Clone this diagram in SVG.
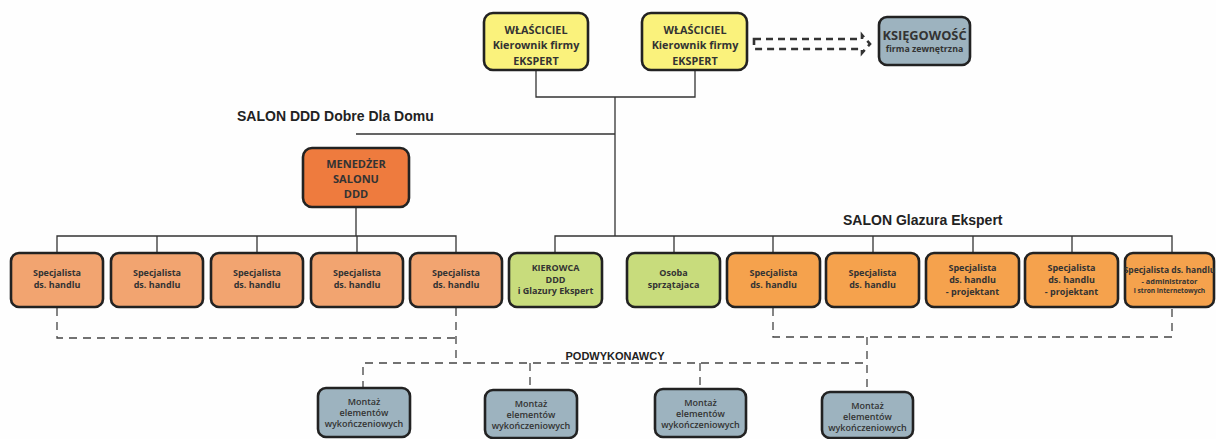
<svg xmlns="http://www.w3.org/2000/svg" width="1216" height="439" viewBox="0 0 1216 439">
<style>
.box{stroke:#222;stroke-width:2.6}
.y{fill:#FAF27C}.b{fill:#9DB3BF}.m{fill:#EE7B3E}.lo{fill:#F2A470}.ro{fill:#F5A24D}.g{fill:#C8DC7C}
text{font-family:"Open Sans","Liberation Sans",sans-serif;fill:#333;text-anchor:middle}
.t10{font-size:10.8px;font-weight:bold}
.t12{font-size:11px;font-weight:bold}
.t8{font-size:9px;font-weight:bold}
.t7{font-size:7.4px;font-weight:bold}
.t6{font-size:6.6px;font-weight:bold}
.mt{font-size:9px;font-weight:600}
.h{font-family:"Liberation Sans",Arial,sans-serif;font-weight:bold;text-anchor:start;fill:#222}
.sl{fill:none;stroke:#333;stroke-width:1.3}
.dl{fill:none;stroke:#444;stroke-width:1.3;stroke-dasharray:8,6}
</style>
<rect width="1216" height="439" fill="#FEFEFE"/>
<g id="connectors">
<path class="sl" d="M536 70V97H695V70M615 97V236M356 134H615M356 207V236M57 253V236H456V253M157 236V253M257 236V253M357 236V253M555 253V236H1172V253M674 236V253M773 236V253M873 236V253M973 236V253M1072 236V253"/>
<path class="dl" d="M57 308V338H456M456 308V363M363 389V363H867M530 363V390M700 363V389M867 337V392M773 308V337H1172V308"/>
<path fill="none" stroke="#333" stroke-width="2.6" stroke-dasharray="7,5" d="M754 39H862V35L870 44L862 53V49H754Z"/>
</g>
<g id="wlasciciel1"><rect class="box y" x="484" y="13" width="104" height="57" rx="9"/><text class="t10" x="536" y="34">WŁAŚCICIEL</text><text class="t10" x="536" y="49">Kierownik firmy</text><text class="t10" x="536" y="64.5">EKSPERT</text></g>
<g id="wlasciciel2"><rect class="box y" x="642" y="13" width="105" height="57" rx="9"/><text class="t10" x="695" y="34">WŁAŚCICIEL</text><text class="t10" x="695" y="49">Kierownik firmy</text><text class="t10" x="695" y="64.5">EKSPERT</text></g>
<g id="ksiegowosc"><rect class="box b" x="879" y="17" width="91" height="48" rx="8"/><text class="t12" x="924.5" y="39.5" style="font-size:12.8px">KSIĘGOWOŚĆ</text><text class="t7" x="924.5" y="51.5" style="font-size:8.8px">firma zewnętrzna</text></g>
<text class="h" x="237" y="121" font-size="14">SALON DDD Dobre Dla Domu</text>
<text class="h" x="843" y="225" font-size="14">SALON Glazura Ekspert</text>
<text class="h" x="615" y="360" font-size="11" style="text-anchor:middle">PODWYKONAWCY</text>
<g id="menedzer"><rect class="box m" x="303" y="148" width="106" height="59" rx="9"/><text class="t12" x="356" y="168">MENEDŻER</text><text class="t12" x="356" y="183">SALONU</text><text class="t12" x="356" y="198">DDD</text></g>
<g id="spec1"><rect class="box lo" x="11" y="253" width="92" height="54" rx="8"/><text class="t8" x="57" y="276">Specjalista</text><text class="t8" x="57" y="288">ds. handlu</text></g>
<g id="spec2"><rect class="box lo" x="111" y="253" width="92" height="54" rx="8"/><text class="t8" x="157" y="276">Specjalista</text><text class="t8" x="157" y="288">ds. handlu</text></g>
<g id="spec3"><rect class="box lo" x="211" y="253" width="92" height="54" rx="8"/><text class="t8" x="257" y="276">Specjalista</text><text class="t8" x="257" y="288">ds. handlu</text></g>
<g id="spec4"><rect class="box lo" x="311" y="253" width="92" height="54" rx="8"/><text class="t8" x="357" y="276">Specjalista</text><text class="t8" x="357" y="288">ds. handlu</text></g>
<g id="spec5"><rect class="box lo" x="410" y="253" width="92" height="54" rx="8"/><text class="t8" x="456" y="276">Specjalista</text><text class="t8" x="456" y="288">ds. handlu</text></g>
<g id="kierowca"><rect class="box g" x="509" y="253" width="93" height="54" rx="8"/><text class="t8" x="555.5" y="271">KIEROWCA</text><text class="t8" x="555.5" y="282.5">DDD</text><text class="t8" x="555.5" y="294">i Glazury Ekspert</text></g>
<g id="osoba"><rect class="box g" x="627" y="253" width="93" height="54" rx="8"/><text class="t8" x="673.5" y="276">Osoba</text><text class="t8" x="673.5" y="288">sprzątajaca</text></g>
<g id="spec6"><rect class="box ro" x="727" y="253" width="93" height="54" rx="8"/><text class="t8" x="773.5" y="276">Specjalista</text><text class="t8" x="773.5" y="288">ds. handlu</text></g>
<g id="spec7"><rect class="box ro" x="826" y="253" width="93" height="54" rx="8"/><text class="t8" x="872.5" y="276">Specjalista</text><text class="t8" x="872.5" y="288">ds. handlu</text></g>
<g id="spec8"><rect class="box ro" x="926" y="253" width="93" height="54" rx="8"/><text class="t8" x="972.5" y="271">Specjalista</text><text class="t8" x="972.5" y="283">ds. handlu</text><text class="t8" x="972.5" y="295">- projektant</text></g>
<g id="spec9"><rect class="box ro" x="1025" y="253" width="93" height="54" rx="8"/><text class="t8" x="1071.5" y="271">Specjalista</text><text class="t8" x="1071.5" y="283">ds. handlu</text><text class="t8" x="1071.5" y="295">- projektant</text></g>
<g id="spec10"><rect class="box ro" x="1125" y="253" width="89" height="54" rx="8"/><text class="t8" x="1169.5" y="273" style="font-size:8.5px">Specjalista ds. handlu</text><text class="t7" x="1169.5" y="284">- administrator</text><text class="t6" x="1169.5" y="293">i stron internetowych</text></g>
<g id="montaz1"><rect class="box b" x="318" y="388" width="92" height="49" rx="8"/><text class="mt" x="364" y="405">Montaż</text><text class="mt" x="364" y="416">elementów</text><text class="mt" x="364" y="427">wykończeniowych</text></g>
<g id="montaz2"><rect class="box b" x="485" y="390" width="92" height="48" rx="8"/><text class="mt" x="531" y="407">Montaż</text><text class="mt" x="531" y="418">elementów</text><text class="mt" x="531" y="429">wykończeniowych</text></g>
<g id="montaz3"><rect class="box b" x="655" y="389" width="91" height="48" rx="8"/><text class="mt" x="700.5" y="406">Montaż</text><text class="mt" x="700.5" y="417">elementów</text><text class="mt" x="700.5" y="428">wykończeniowych</text></g>
<g id="montaz4"><rect class="box b" x="822" y="392" width="91" height="46" rx="8"/><text class="mt" x="867.5" y="409">Montaż</text><text class="mt" x="867.5" y="420">elementów</text><text class="mt" x="867.5" y="431">wykończeniowych</text></g>
</svg>
